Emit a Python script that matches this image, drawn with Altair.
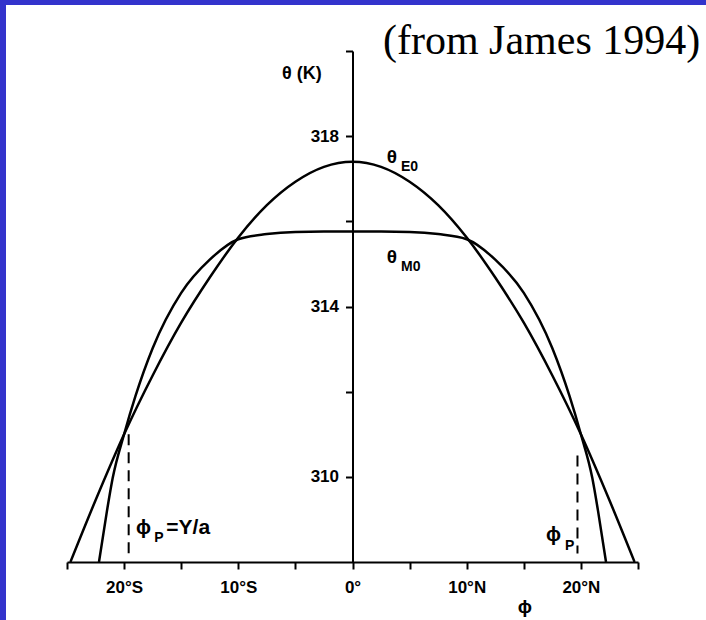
import altair as alt
import pandas as pd

# Radiative-equilibrium temperature profile theta_E0 (K) against latitude (deg)
lat_e0 = [-24.7, -22.5, -20.0, -17.5, -15.0, -12.5, -10.0, -7.5, -5.0, -2.5, 0.0,
          2.5, 5.0, 7.5, 10.0, 12.5, 15.0, 17.5, 20.0, 22.5, 24.7]
theta_e0 = [308.00, 309.45, 311.00, 312.38, 313.62, 314.68, 315.62, 316.38, 316.93, 317.28, 317.40,
            317.28, 316.93, 316.38, 315.62, 314.68, 313.62, 312.38, 311.00, 309.45, 308.00]

# Angular-momentum-conserving profile theta_M0 (K)
lat_m0 = [-22.2, -21.5, -21.0, -20.0, -19.0, -17.5, -15.0, -12.5, -10.0, -7.5, -5.0, -2.5, 0.0,
          2.5, 5.0, 7.5, 10.0, 12.5, 15.0, 17.5, 19.0, 20.0, 21.0, 21.5, 22.2]
theta_m0 = [308.00, 309.20, 309.97, 311.00, 311.90, 313.02, 314.32, 315.10, 315.58, 315.70, 315.75, 315.76, 315.76,
            315.76, 315.75, 315.70, 315.58, 315.10, 314.32, 313.02, 311.90, 311.00, 309.97, 309.20, 308.00]

# Poleward edges of the circulation, phi_P
lat_edge = [-19.6, 19.7]
theta_edge_top = [311.0, 310.5]
theta_edge_bot = [308.2, 308.2]

x_ticks = [-25, -20, -15, -10, -5, 0, 5, 10, 15, 20, 25]
y_ticks = [310, 312, 314, 316, 318, 320]

W, H = 571, 511
PAD = {"left": 67, "top": 51, "right": 68, "bottom": 58}
BLUE = "#3333cc"
SANS = "Liberation Sans"

curves = pd.concat([
    pd.DataFrame({"lat": lat_e0, "theta": theta_e0, "series": "E0"}),
    pd.DataFrame({"lat": lat_m0, "theta": theta_m0, "series": "M0"}),
])
edges = pd.DataFrame({"lat": lat_edge, "theta": theta_edge_top, "theta2": theta_edge_bot})

x_label = ("datum.value == 0 ? '0°' : (datum.value % 10 != 0 ? '' : "
           "(abs(datum.value) + '°' + (datum.value < 0 ? 'S' : 'N')))")
y_label = "(datum.value == 310 || datum.value == 314 || datum.value == 318) ? datum.value : ''"

x_enc = alt.X("lat:Q", title=None,
              scale=alt.Scale(domain=[-25, 25], nice=False, zero=False),
              axis=alt.Axis(values=x_ticks, labelExpr=x_label, grid=False,
                            domainColor="black", domainWidth=2, tickColor="black",
                            tickWidth=2, tickSize=7, labelPadding=10,
                            labelFont=SANS, labelFontSize=17, labelColor="black",
                            labelFontWeight="bold"))
y_enc = alt.Y("theta:Q", title=None,
              scale=alt.Scale(domain=[308, 320], nice=False, zero=False),
              axis=alt.Axis(values=y_ticks, labelExpr=y_label, grid=False,
                            offset=-W / 2, domainColor="black", domainWidth=2,
                            tickColor="black", tickWidth=2, tickSize=7, labelPadding=7,
                            labelFont=SANS, labelFontSize=17, labelColor="black",
                            labelFontWeight="bold"))

lines = alt.Chart(curves).mark_line(color="black", strokeWidth=2.5, interpolate="monotone").encode(
    x=x_enc, y=y_enc, detail="series:N"
)

dashes = alt.Chart(edges).mark_rule(color="black", strokeWidth=2, strokeDash=[11, 7]).encode(
    x=alt.X("lat:Q", title=None), y=alt.Y("theta:Q", title=None), y2="theta2:Q"
)

# Curve and edge annotations: main glyphs and their subscripts
notes = pd.DataFrame({
    "txt": ["θ", "θ", "ϕ", "=Y/a", "ϕ"],
    "lat": [3.0, 3.0, -18.95, -16.30, 16.95],
    "theta": [317.51, 315.16, 308.80, 308.80, 308.63],
    "size": [19, 19, 20, 21, 20],
})
subs = pd.DataFrame({
    "txt": ["E0", "M0", "P", "P"],
    "lat": [4.25, 4.25, -17.35, 18.60],
    "theta": [317.28, 314.93, 308.56, 308.38],
})

note_text = alt.Chart(notes).mark_text(
    font=SANS, align="left", baseline="middle", color="black", fontWeight="bold"
).encode(x=alt.X("lat:Q", title=None), y=alt.Y("theta:Q", title=None), text="txt:N",
         size=alt.Size("size:Q", scale=None, legend=None))

axis_name = alt.Chart(pd.DataFrame({"txt": ["θ (K)"], "lat": [-2.7], "theta": [319.46]})).mark_text(
    font=SANS, fontSize=18, align="right", baseline="middle", color="black", fontWeight="bold"
).encode(x=alt.X("lat:Q", title=None), y=alt.Y("theta:Q", title=None), text="txt:N")

sub_text = alt.Chart(subs).mark_text(
    font=SANS, fontSize=14, align="left", baseline="middle", color="black", fontWeight="bold"
).encode(x=alt.X("lat:Q", title=None), y=alt.Y("theta:Q", title=None), text="txt:N")

phi_title = alt.Chart(pd.DataFrame({"txt": ["ϕ"], "lat": [15.1], "theta": [306.94]})).mark_text(
    font=SANS, fontSize=19, align="center", baseline="middle", color="black", fontWeight="bold"
).encode(x=alt.X("lat:Q", title=None), y=alt.Y("theta:Q", title=None), text="txt:N")

source = alt.Chart(pd.DataFrame({"txt": ["(from James 1994)"], "lat": [2.67], "theta": [319.93]})).mark_text(
    font="Liberation Serif", fontSize=42, align="left", baseline="alphabetic", color="black"
).encode(x=alt.X("lat:Q", title=None), y=alt.Y("theta:Q", title=None), text="txt:N")

# Blue frame strips along the top and left edges
one = pd.DataFrame({"k": [0]})
strip_left = alt.Chart(one).mark_rect(color=BLUE).encode(
    x=alt.value(-PAD["left"]), x2=alt.value(-PAD["left"] + 6),
    y=alt.value(-PAD["top"]), y2=alt.value(H + PAD["bottom"])
)
strip_top = alt.Chart(one).mark_rect(color=BLUE).encode(
    x=alt.value(-PAD["left"]), x2=alt.value(W + PAD["right"]),
    y=alt.value(-PAD["top"]), y2=alt.value(-PAD["top"] + 5)
)

chart = alt.layer(
    lines, dashes, note_text, axis_name, sub_text, phi_title, source, strip_left, strip_top
).properties(
    width=W, height=H, padding=PAD, background="white",
    autosize=alt.AutoSizeParams(type="none")
).configure_view(stroke=None)

chart.save("out.html", embed_options={"renderer": "svg", "actions": False})
